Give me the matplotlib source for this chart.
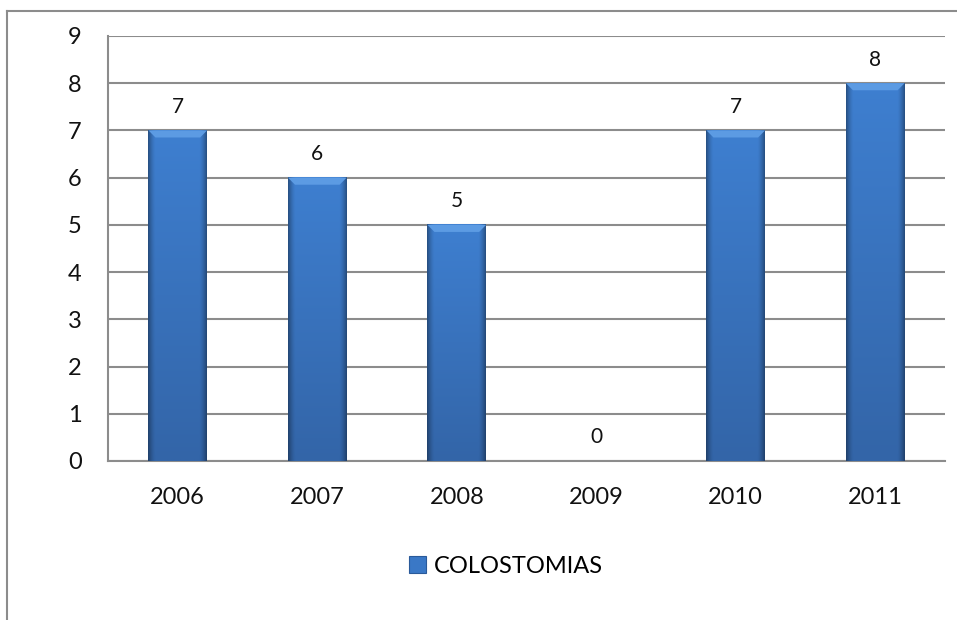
import matplotlib
matplotlib.use("Agg")
import matplotlib.pyplot as plt
import numpy as np
from matplotlib.patches import Polygon, Patch
from matplotlib.lines import Line2D

# Datos de colostomías por año
years = ["2006", "2007", "2008", "2009", "2010", "2011"]
colostomias = [7, 6, 5, 0, 7, 8]
series_name = "COLOSTOMIAS"

plt.rcParams['font.family'] = ['Lato', 'DejaVu Sans']

fig = plt.figure(figsize=(9.57, 6.2), dpi=100)
ax = fig.add_axes([0.1129, 0.2565, 0.8746, 0.6855])

grid_color = "#8c8c8c"
bar_w = 0.42
x = np.arange(len(years))


def shade_bar(ax, xc, h, w):
    """Barra con degradado y bisel superior (estilo Excel)."""
    if h <= 0:
        return
    # perfil horizontal: bordes oscuros, centro más claro
    u = np.linspace(-1, 1, 60)
    horiz = 1.0 - 0.35 * np.clip((np.abs(u) - 0.75) / 0.25, 0, 1) ** 1.5
    v = np.linspace(0, 1, 100)[:, None]          # 0 = arriba, 1 = abajo
    top = np.array([0x3e, 0x7f, 0xd0]) / 255
    bot = np.array([0x33, 0x65, 0xa8]) / 255
    col = top[None, None, :] * (1 - v[..., None]) + bot[None, None, :] * v[..., None]
    img = col * horiz[None, :, None]
    ax.imshow(img, extent=[xc - w / 2, xc + w / 2, 0, h], origin="upper",
              aspect="auto", zorder=3, interpolation="bilinear")
    # bisel superior
    d, b = 0.05, 0.15
    ax.add_patch(Polygon([(xc - w / 2, h), (xc + w / 2, h),
                          (xc + w / 2 - d, h - b), (xc - w / 2 + d, h - b)],
                         closed=True, facecolor="#5c9be3", edgecolor="none", zorder=4))


bars = ax.bar(x, colostomias, width=bar_w, color="#3a74c0", zorder=2)
for xc, h in zip(x, colostomias):
    shade_bar(ax, xc, h, bar_w)
    ax.annotate(str(h), (xc, h), xytext=(0, 17), textcoords="offset points",
                ha="center", va="center", fontsize=15, color="#111111")

ax.set_xlim(-0.5, len(years) - 0.5)
ax.set_ylim(0, 9)
ax.set_yticks(range(0, 10))
ax.set_xticks(x)
ax.set_xticklabels(years)
ax.tick_params(axis="both", length=0, labelsize=17, colors="#111111")
ax.tick_params(axis="y", pad=19)
ax.tick_params(axis="x", pad=19)

ax.yaxis.grid(True, color=grid_color, linewidth=1.5, zorder=1)
ax.set_axisbelow(True)
for s in ["top", "right"]:
    ax.spines[s].set_visible(False)
for s in ["left", "bottom"]:
    ax.spines[s].set_color(grid_color)
    ax.spines[s].set_linewidth(1.5)

# marco exterior del gráfico
fig.add_artist(Line2D([7 / 957, 7 / 957], [0, 1 - 11 / 620], transform=fig.transFigure,
                      color="#8c8c8c", linewidth=1.5))
fig.add_artist(Line2D([7 / 957, 1], [1 - 11 / 620, 1 - 11 / 620], transform=fig.transFigure,
                      color="#8c8c8c", linewidth=1.5))

handle = Patch(facecolor="#3a78c6", edgecolor="#2a5a9a", linewidth=0.8)
fig.legend([handle], [series_name], loc="center", bbox_to_anchor=(0.529, 0.087),
           frameon=False, fontsize=17, handlelength=0.7, handleheight=0.7,
           handletextpad=0.35)

fig.savefig("out.png", dpi=100)
